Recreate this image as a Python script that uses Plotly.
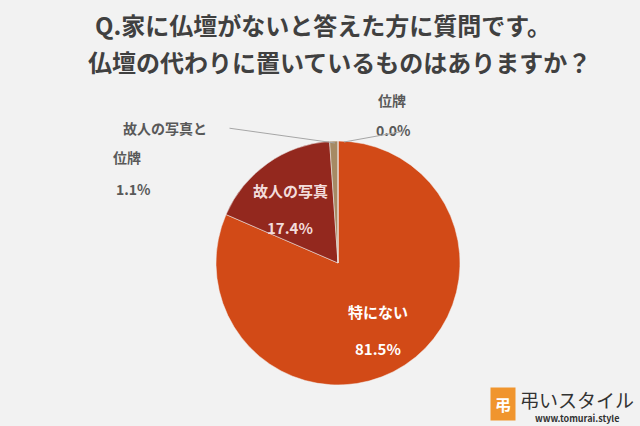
import plotly.graph_objects as go

labels = ["特にない", "故人の写真", "故人の写真と位牌", "位牌"]
values = [81.5, 17.4, 1.1, 0.0]
colors = ["#D24A17", "#93281E", "#A68A64", "#7F7F7F"]

FONT = "Noto Sans CJK JP"

fig = go.Figure(go.Pie(
    labels=labels, values=values, sort=False, direction="clockwise", rotation=0,
    marker=dict(colors=colors, line=dict(color="#F2F2F2", width=0.5)),
    textinfo="none", hoverinfo="label+percent", showlegend=False,
    domain=dict(x=[216 / 640, 460 / 640], y=[1 - 385 / 426, 1 - 141 / 426]),
))

def px(x, y):
    return x / 640, 1 - y / 426

anns = []
def add(text, x, y, color="#595959", size=14):
    xx, yy = px(x, y)
    anns.append(dict(text=text, x=xx, y=yy, xref="paper", yref="paper", showarrow=False,
                     xanchor="center", yanchor="middle",
                     font=dict(family=FONT, size=size, color=color)))

add("<b>Q.家に仏壇がないと答えた方に質問です。</b>", 323, 24, "#404040", 24)
add("<b>仏壇の代わりに置いているものはありますか？</b>", 339, 62, "#404040", 24)
add("<b>特にない</b>", 378, 311, "white", 15)
add("<b>81.5%</b>", 378, 348, "white", 15)
add("<b>故人の写真</b>", 290, 191, "#F2DCDB", 15)
add("<b>17.4%</b>", 290, 227, "#F2DCDB", 15)
add("<b>故人の写真と</b>", 165, 128, "#595959", 14)
add("<b>位牌</b>", 127, 157, "#595959", 14)
add("<b>1.1%</b>", 133, 189, "#595959", 14)
add("<b>位牌</b>", 392, 100, "#595959", 14)
add("<b>0.0%</b>", 393, 130, "#595959", 14)
add("弔いスタイル", 577, 399, "#333333", 19)
add("<b>www.tomurai.style</b>", 577, 418, "#333333", 9)
anns.append(dict(text="<b>弔</b>", x=503 / 640, y=1 - 404 / 426, xref="paper", yref="paper",
                 xanchor="center", yanchor="middle",
                 showarrow=False, bgcolor="#F0952E", font=dict(family=FONT, size=16, color="white"),
                 borderpad=4))

for (x0, y0, x1, y1) in [(228, 128, 335, 143), (405, 131, 344, 142)]:
    a, b = px(x1, y1)
    anns.append(dict(x=a, y=b, ax=x0 - x1, ay=y0 - y1, xref="paper", yref="paper",
                     showarrow=True, arrowhead=0, arrowwidth=1, arrowcolor="#A6A6A6", text=""))

fig.update_layout(
    width=640, height=426, margin=dict(l=0, r=0, t=0, b=0),
    paper_bgcolor="#F2F2F2", plot_bgcolor="#F2F2F2", annotations=anns,
)
fig.write_html("out.html", config={"displayModeBar": False},
               post_script="document.body.style.margin='0';")
